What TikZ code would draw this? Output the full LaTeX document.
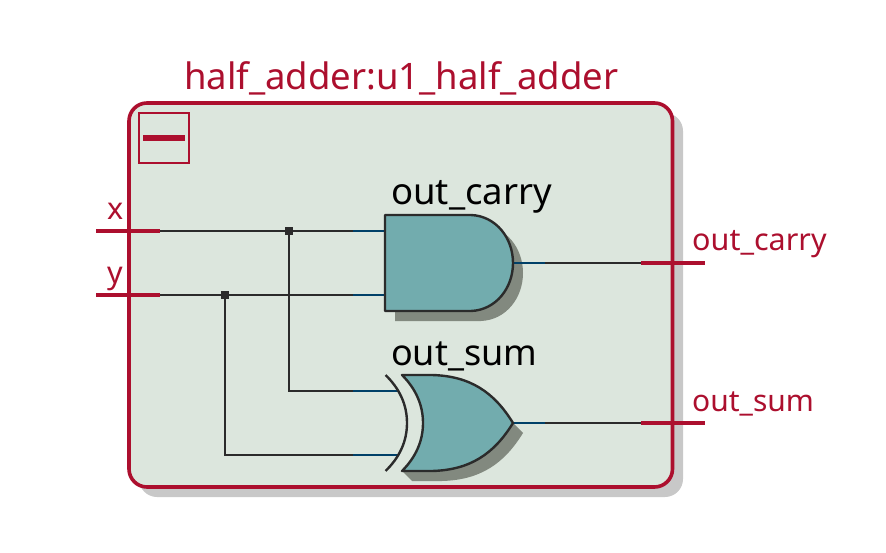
\documentclass[tikz,border=0pt]{standalone}
\usepackage{fontspec}
\setmainfont{Noto Sans}
\definecolor{qred}{HTML}{AC0F2E}
\definecolor{qbody}{HTML}{DCE6DD}
\definecolor{qgate}{HTML}{72ACAE}
\definecolor{qgshadow}{HTML}{82897F}
\definecolor{qbshadow}{HTML}{C8C8C8}
\definecolor{qwire}{HTML}{2B2B2B}
\definecolor{qblue}{HTML}{004068}
\tikzset{
  portwire/.style={draw=qred,line width=3.2pt},
  netwire/.style={draw=qwire,line width=2.2pt},
  stubwire/.style={draw=qblue,line width=2.2pt},
  gateoutline/.style={draw=qwire,line width=2.4pt,fill=qgate,line join=round},
  gateshadow/.style={fill=qgshadow},
  dotnode/.style={fill=qwire,minimum size=8pt,inner sep=0pt,draw=none,rectangle},
  txt/.style={inner sep=0pt,anchor=base west},
  titletxt/.style={txt,text=qred,font=\fontsize{36.5}{36.5}\selectfont},
  gatetxt/.style={txt,text=black,font=\fontsize{36.5}{36.5}\selectfont},
  gatetxtb/.style={txt,text=black,font=\fontsize{36}{36}\selectfont},
  porttxt/.style={txt,text=qred,font=\fontsize{30.5}{30.5}\selectfont},
  porttxtb/.style={txt,text=qred,font=\fontsize{30}{30}\selectfont}
}
\begin{document}
\begin{tikzpicture}[x=1pt,y=-1pt]
\useasboundingbox (0,0) rectangle (886,553);
% body
\fill[qbshadow,rounded corners=18pt] (139,113) rectangle (683,497);
\draw[qred,line width=3.6pt,fill=qbody,rounded corners=18pt] (129,103) rectangle (672.5,487);
\draw[qred,line width=2.2pt] (139,113) rectangle (189,163);
\fill[qred] (143,135) rectangle (185,141);
% coordinates
\coordinate (xa) at (96,231); \coordinate (xb) at (160,231); \coordinate (xc) at (353,231); \coordinate (xd) at (385,231);
\coordinate (ya) at (96,295); \coordinate (yb) at (160,295); \coordinate (yc) at (353,295); \coordinate (yd) at (385,295);
\coordinate (sa) at (353,391); \coordinate (sb) at (399,391);
\coordinate (ta) at (353,455); \coordinate (tb) at (399,455);
\coordinate (ca) at (513,263); \coordinate (cb) at (545,263); \coordinate (cc) at (641,263); \coordinate (cd) at (705,263);
\coordinate (oa) at (513,423); \coordinate (ob) at (545,423); \coordinate (oc) at (641,423); \coordinate (od) at (705,423);
% shadows
\fill[gateshadow,shift={(10,10)}] (385,215) -- (471,215) .. controls (496,216) and (513,238) .. (513,263) .. controls (513,288) and (496,310) .. (471,311) -- (385,311) -- cycle;
\fill[gateshadow] (513,423) -- (523,433) .. controls (504,464) and (480,480) .. (442,481) -- (412,481) -- (402,471) -- (432,471) -- cycle;
% wires
\draw[netwire] (xb) -- (xc);
\draw[stubwire] (xc) -- (xd);
\draw[netwire] (yb) -- (yc);
\draw[stubwire] (yc) -- (yd);
\node[dotnode] (j1) at (289,231) {};
\node[dotnode] (j2) at (225,295) {};
\draw[netwire] (j1) |- (sa);
\draw[stubwire] (sa) -- (sb);
\draw[netwire] (j2) |- (ta);
\draw[stubwire] (ta) -- (tb);
\draw[stubwire] (ca) -- (cb);
\draw[netwire] (cb) -- (cc);
\draw[stubwire] (oa) -- (ob);
\draw[netwire] (ob) -- (oc);
% ports
\draw[portwire] (xa) -- (xb);
\draw[portwire] (ya) -- (yb);
\draw[portwire] (cc) -- (cd);
\draw[portwire] (oc) -- (od);
% gates
\draw[gateoutline] (385,215) -- (471,215) .. controls (496,216) and (513,238) .. (513,263) .. controls (513,288) and (496,310) .. (471,311) -- (385,311) -- cycle;
\draw[gateoutline] (402,375) -- (432,375) .. controls (470,376) and (494,392) .. (513,423) .. controls (494,454) and (470,470) .. (432,471) -- (402,471) .. controls (415,458) and (423,442) .. (423,423) .. controls (423,404) and (415,388) .. (402,375) -- cycle;
\draw[draw=qwire,line width=2.4pt] (385.5,375) .. controls (399,388) and (407,404) .. (407,423) .. controls (407,442) and (399,458) .. (385.5,471);
% labels
\node[titletxt] (title) at (184,90) {half\_adder:u1\_half\_adder};
\node[gatetxt] (g1) at (391,205) {out\_carry};
\node[gatetxtb] (g2) at (391,365) {out\_sum};
\node[porttxt] (lx) at (107,220) {x};
\node[porttxt] (ly) at (107,284) {y};
\node[porttxt] (lc) at (692,251) {out\_carry};
\node[porttxtb] (ls) at (692,411) {out\_sum};
\end{tikzpicture}
\end{document}
